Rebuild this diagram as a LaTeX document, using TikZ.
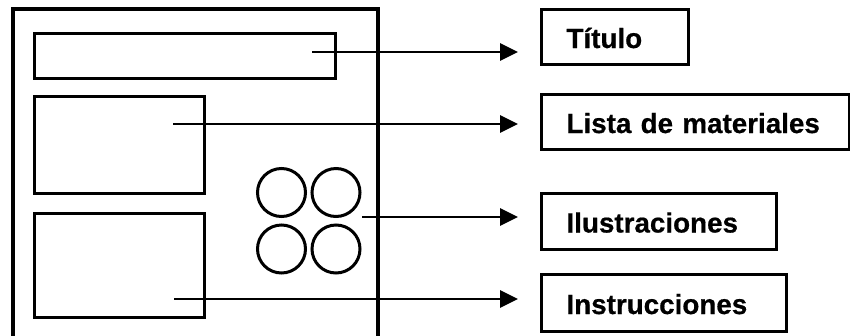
\documentclass[tikz,border=0pt]{standalone}
\usepackage{fontspec}
\setmainfont[BoldFeatures={FakeBold=0.6}]{Liberation Sans}
\usetikzlibrary{arrows.meta}
\begin{document}
\begin{tikzpicture}[x=1pt,y=-1pt,
  frame/.style={draw=black,line width=3.6pt},
  part/.style={draw=black,line width=3.3pt,anchor=north west,inner sep=0pt},
  dot/.style={draw=black,line width=3pt,circle,inner sep=0pt,minimum size=48pt},
  lbl/.style={draw=black,line width=3pt,anchor=north west,inner xsep=25pt,inner ysep=0pt,
    align=left,text height=22pt,text depth=0pt,font=\fontsize{27.8}{30}\selectfont\bfseries},
  arr/.style={line width=2.8pt,-{Triangle[length=18pt,width=17pt]}}]
\useasboundingbox[fill=white] (0,0) rectangle (850,335);
\clip (0,0) rectangle (850,335);
% page frame
\draw[frame] (13,360) -- (13,9) -- (378,9) -- (378,360);
% parts of the page
\node[part,minimum width=301pt,minimum height=45pt] (title) at (33,32) {};
\node[part,minimum width=170pt,minimum height=97pt] (mat) at (33,95) {};
\node[part,minimum width=170pt,minimum height=104pt] (ins) at (33,212) {};
\node[dot] (c1) at (281.5,192.5) {};
\node[dot] (c2) at (336,192.5) {};
\node[dot] (c3) at (281.5,249) {};
\node[dot] (c4) at (336,249) {};
% labels
\node[lbl,text width=97pt,minimum height=55pt] (lt) at (540,8) {Título};
\node[lbl,text width=258pt,minimum height=55pt] (lm) at (540,93) {Lista de materiales};
\node[lbl,text width=185pt,minimum height=56pt] (li) at (540,192) {Ilustraciones};
\node[lbl,text width=195pt,minimum height=57pt] (ln) at (540,273) {Instrucciones};
% arrow ends
\coordinate (s1) at (312,52);
\coordinate (s2) at (173,124);
\coordinate (s3) at (362,217);
\coordinate (s4) at (174,299);
\coordinate (e1) at (518,52);
\coordinate (e2) at (518,124);
\coordinate (e3) at (518,217);
\coordinate (e4) at (518,299);
\draw[arr] (s1) -- (e1);
\draw[arr] (s2) -- (e2);
\draw[arr] (s3) -- (e3);
\draw[arr] (s4) -- (e4);
\end{tikzpicture}
\end{document}
